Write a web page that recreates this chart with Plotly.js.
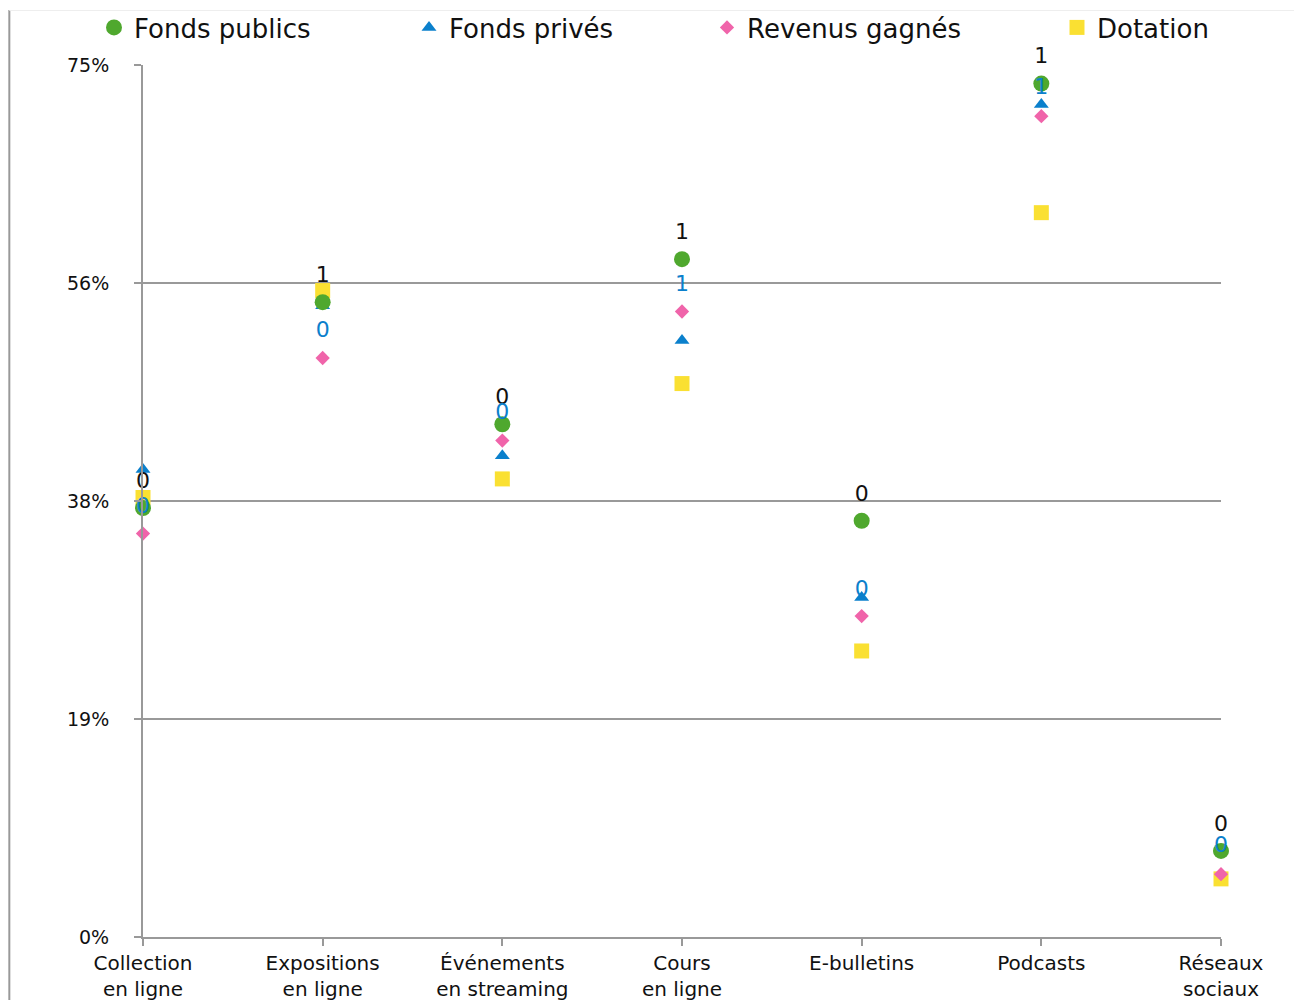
<!DOCTYPE html>
<html>
<head>
<meta charset="utf-8">
<script src="https://cdn.plot.ly/plotly-3.0.1.min.js"></script>
<style>html,body{margin:0;padding:0;background:#fff;}#chart{width:1294px;height:1000px;}</style>
</head>
<body>
<div id="chart"></div>
<script>
const categories = ["Collection<br>en ligne", "Expositions<br>en ligne", "Événements<br>en streaming", "Cours<br>en ligne", "E-bulletins", "Podcasts", "Réseaux<br>sociaux"];
const fondsPublics = [36.9, 54.6, 44.1, 58.3, 35.8, 73.4, 7.4];
const fondsPrives = [40.2, 54.3, 41.4, 51.3, 29.2, 71.6, 7.5];
const revenusGagnes = [34.7, 49.8, 42.7, 53.8, 27.6, 70.6, 5.4];
const dotation = [37.8, 55.6, 39.4, 47.6, 24.6, 62.3, 5.0];
const publicLabels = ["0", "1", "0", "1", "0", "1", "0"];
const priveLabels = ["0", "0", "0", "1", "0", "1", "0"];
const priveLabelY = [36.9, 52.1, 45.0, 56.0, 29.8, 73.0, 7.8];
const yTickVals = [0, 18.75, 37.5, 56.25, 75];
const yTickText = ["0%", "19%", "38%", "56%", "75%"];

const FONT = "DejaVu Sans, sans-serif";
const traces = [
  {name: "Dotation", x: categories, y: dotation, type: "scatter", mode: "markers", legend: "legend4",
   marker: {symbol: "square", size: 15, color: "#fae032"}, cliponaxis: false},
  {name: "Fonds privés", x: categories, y: fondsPrives, type: "scatter", mode: "markers", legend: "legend2",
   marker: {symbol: "triangle-up", size: 13, color: "#0b80cc"}, cliponaxis: false},
  {name: "Fonds publics", x: categories, y: fondsPublics, type: "scatter", mode: "markers", legend: "legend",
   marker: {symbol: "circle", size: 16, color: "#4fa82e"}, cliponaxis: false},
  {name: "Revenus gagnés", x: categories, y: revenusGagnes, type: "scatter", mode: "markers", legend: "legend3",
   marker: {symbol: "diamond", size: 11, color: "#f064aa"}, cliponaxis: false},
  {name: "labels publics", x: categories, y: fondsPublics, type: "scatter", mode: "markers+text", showlegend: false,
   text: publicLabels, textposition: "top center", textfont: {family: FONT, size: 22, color: "#111"},
   marker: {size: 22, opacity: 0}, cliponaxis: false},
  {name: "labels privés", x: categories, y: priveLabelY, type: "scatter", mode: "text", showlegend: false,
   text: priveLabels, textposition: "middle center", textfont: {family: FONT, size: 22, color: "#0b80cc"}, cliponaxis: false}
];

const PW = 1078, PH = 872;
function lg(px) {
  return {orientation: "h", x: (px - 143) / PW, xanchor: "left", y: (937 - 4) / PH, yanchor: "top",
    font: {family: FONT, size: 26, color: "#111"}, bgcolor: "rgba(0,0,0,0)", itemsizing: "trace"};
}

const layout = {
  width: 1294, height: 1000,
  margin: {l: 143, r: 73, t: 65, b: 63, autoexpand: false},
  paper_bgcolor: "#fff", plot_bgcolor: "#fff",
  font: {family: FONT, size: 20, color: "#111"},
  showlegend: true,
  legend: lg(94), legend2: lg(409), legend3: lg(707), legend4: lg(1057),
  xaxis: {type: "category", range: [0, 6], showgrid: false, zeroline: false,
    showline: true, linecolor: "#999", linewidth: 2,
    ticks: "outside", ticklen: 7, tickwidth: 2, tickcolor: "#999",
    tickfont: {family: FONT, size: 20, color: "#111"}},
  yaxis: {range: [0, 75], tickvals: yTickVals, ticktext: yTickText,
    showgrid: true, gridcolor: "#999", gridwidth: 2, zeroline: false,
    showline: true, linecolor: "#999", linewidth: 2,
    ticks: "outside", ticklen: 7, tickwidth: 2, tickcolor: "#999",
    ticklabelstandoff: 21,
    tickfont: {family: FONT, size: 19, color: "#111"}},
  shapes: [
    {type: "line", xref: "paper", yref: "paper", x0: -0.124, x1: -0.124, y0: -0.08, y1: 1.063,
     line: {color: "#999", width: 2}},
    {type: "line", xref: "paper", yref: "paper", x0: -0.124, x1: 1.068, y0: 1.0625, y1: 1.0625,
     line: {color: "#eee", width: 1}}
  ]
};

Plotly.newPlot("chart", traces, layout, {displayModeBar: false, staticPlot: true});
</script>
</body>
</html>
